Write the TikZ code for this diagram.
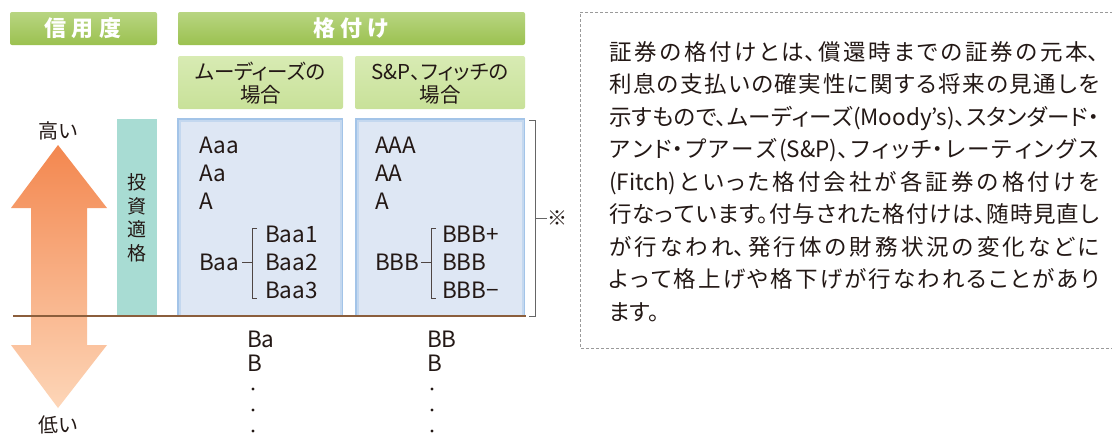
\documentclass[tikz,border=0pt]{standalone}
\usepackage{fontspec}
\setmainfont{Noto Sans CJK JP}
\newfontfamily\bodyfont[RawFeature=+palt]{Noto Sans CJK JP}
\XeTeXlinebreaklocale "ja"
\XeTeXlinebreakskip=0pt plus 6pt
\definecolor{hdrtop}{HTML}{B8D581}
\definecolor{hdrbot}{HTML}{9BC150}
\definecolor{subtop}{HTML}{D8EBB3}
\definecolor{subbot}{HTML}{C8E199}
\definecolor{tealc}{HTML}{A8DCD3}
\definecolor{bluefill}{HTML}{DEE7F4}
\definecolor{blueedge}{HTML}{A3C4E8}
\definecolor{bluemid}{HTML}{C4D8EF}
\definecolor{brownc}{HTML}{8B5E3C}
\definecolor{arrtop}{HTML}{F3874F}
\definecolor{arrmid}{HTML}{F8B589}
\definecolor{arrbot}{HTML}{FDD6B8}
\definecolor{ink}{HTML}{231815}
\definecolor{dashc}{HTML}{9A9A9A}
\begin{document}
\begin{tikzpicture}[x=1pt,y=-1pt,
  hdrbox/.style={rounded corners=2pt, top color=hdrtop, bottom color=hdrbot, draw=none},
  subbox/.style={rounded corners=2pt, top color=subtop, bottom color=subbot, draw=none},
  hdrtext/.style={text=white, font=\fontsize{22}{24}\selectfont\bfseries, inner sep=0pt},
  subtext/.style={text=ink, font=\bodyfont\fontsize{20.5}{23}\selectfont, align=center, inner sep=0pt},
  rate/.style={text=ink, font=\fontsize{22.5}{24}\selectfont, inner sep=0pt, anchor=west},
  lbl/.style={text=ink, font=\fontsize{20}{23}\selectfont, inner sep=0pt},
  brk/.style={draw=ink!80, line width=0.9pt},
  outbrk/.style={draw=gray!80!black, line width=1pt},
  dotc/.style={circle, fill=ink, inner sep=0pt, minimum size=3.2pt}
]
\useasboundingbox (0,0) rectangle (1112,434);
\fill[white] (0,0) rectangle (1112,434);

% headers
\path[hdrbox] (10,12) rectangle (157,45);
\node[hdrtext] (h1) at (83,28.5) {信\hspace{6pt}用\hspace{6pt}度};
\path[hdrbox] (178,12) rectangle (525,45);
\node[hdrtext] (h2) at (351.5,28.5) {格\hspace{5pt}付\hspace{5pt}け};

% sub headers
\path[subbox] (178,56) rectangle (343,109);
\node[subtext] (s1) at (260.5,83.5) {ムーディーズの\\場合};
\path[subbox] (355,56) rectangle (525,109);
\node[subtext] (s2) at (440,83.5) {S\&P、フィッチの\\場合};

% arrow
\path[shading=axis, top color=arrtop, middle color=arrmid, bottom color=arrbot]
  (58,145) -- (107,208) -- (87,208) -- (87,345) -- (107,345) -- (58,408)
  -- (11,345) -- (31,345) -- (31,208) -- (11,208) -- cycle;
\node[lbl] (hi) at (58,131) {高い};
\node[lbl] (lo) at (58,425) {低い};

% investment grade column
\fill[tealc] (117,119) rectangle (157,316);
\node[text=ink, font=\fontsize{19}{23.5}\selectfont, align=center, inner sep=0pt] (inv) at (137,218) {投\\資\\適\\格};

% blue boxes
\foreach \xa/\xb in {177/343, 355/525}{
  \fill[blueedge] (\xa,118) rectangle (\xb,316);
  \fill[bluemid] (\xa+1.5,119.5) rectangle (\xb-1.5,316);
  \fill[bluefill] (\xa+3.5,121.5) rectangle (\xb-3.5,316);
}

% Moody's ratings
\node[rate] (aaa) at (199,145) {Aaa};
\node[rate] (aa) at (199,173) {Aa};
\node[rate] (a1) at (199,201) {A};
\node[rate] (baa) at (199,262) {Baa};
\node[rate] (baa1) at (265,234) {Baa1};
\node[rate] (baa2) at (265,262) {Baa2};
\node[rate] (baa3) at (265,290) {Baa3};
\coordinate (mbt) at (257,228);
\coordinate (mbb) at (257,298);
\coordinate (mbm) at (252,262);
\draw[brk] (mbt) -- (252,228) -- (252,298) -- (mbb);
\draw[brk] ([xshift=2.5pt]baa.east) -- (mbm);

% S&P ratings
\node[rate] (AAA) at (375,145) {AAA};
\node[rate] (AA) at (375,173) {AA};
\node[rate] (A2) at (375,201) {A};
\node[rate] (BBB) at (375,262) {BBB};
\node[rate] (BBBp) at (442,234) {BBB+};
\node[rate] (BBBm) at (442,262) {BBB};
\node[rate] (BBBn) at (442,290) {BBB−};
\coordinate (sbt) at (436,228);
\coordinate (sbb) at (436,298);
\coordinate (sbm) at (431,262);
\draw[brk] (sbt) -- (431,228) -- (431,298) -- (sbb);
\draw[brk] ([xshift=1.5pt]BBB.east) -- (sbm);

% outer bracket and note mark
\coordinate (obt) at (529,120);
\coordinate (obb) at (529,316);
\coordinate (obm) at (535,218);
\draw[outbrk] (obt) -- (535,120) -- (535,316) -- (obb);
\node[text=ink, font=\fontsize{20}{22}\selectfont, inner sep=0pt] (kome) at (557,218) {※};
\draw[outbrk] (obm) -- (kome.west);

% brown base line
\coordinate (bl) at (13,316);
\coordinate (br) at (526,316);
\draw[brownc, line width=2pt] (bl) -- (br);

% below-grade ratings
\node[rate] (ba) at (247,339) {Ba};
\node[rate] (b1) at (247,363) {B};
\node[rate] (bb) at (427,339) {BB};
\node[rate] (b2) at (427,363) {B};
\foreach \yy [count=\i] in {389,410,431}{
  \node[dotc] (md\i) at (253,\yy) {};
  \node[dotc] (sd\i) at (432,\yy) {};
}

% explanation box
\draw[dashc, line width=1pt, dash pattern=on 3pt off 2pt] (1113,12) -- (580,12) -- (580,348) -- (1113,348);
\node[anchor=base west, inner sep=0pt, text=ink] (expl) at (609,60) {\bodyfont\fontsize{22.5}{32.5}\selectfont\vtop{%
\hsize=490pt \parindent=0pt \parfillskip=0pt \tolerance=10000 \emergencystretch=0pt \rightskip=0pt
証券の格付けとは、償還時までの証券の元本、\par
利息の支払いの確実性に関する将来の見通しを\par
示すもので、ムーディーズ(Moody’s)、スタンダード・\par
アンド・プアーズ(S\&P)、フィッチ・レーティングス\par
(Fitch)といった格付会社が各証券の格付けを\par
行なっています。付与された格付けは、随時見直し\par
が行なわれ、発行体の財務状況の変化などに\par
よって格上げや格下げが行なわれることがあり\par
\parfillskip=0pt plus 1fil ます。\par}};
\end{tikzpicture}
\end{document}
